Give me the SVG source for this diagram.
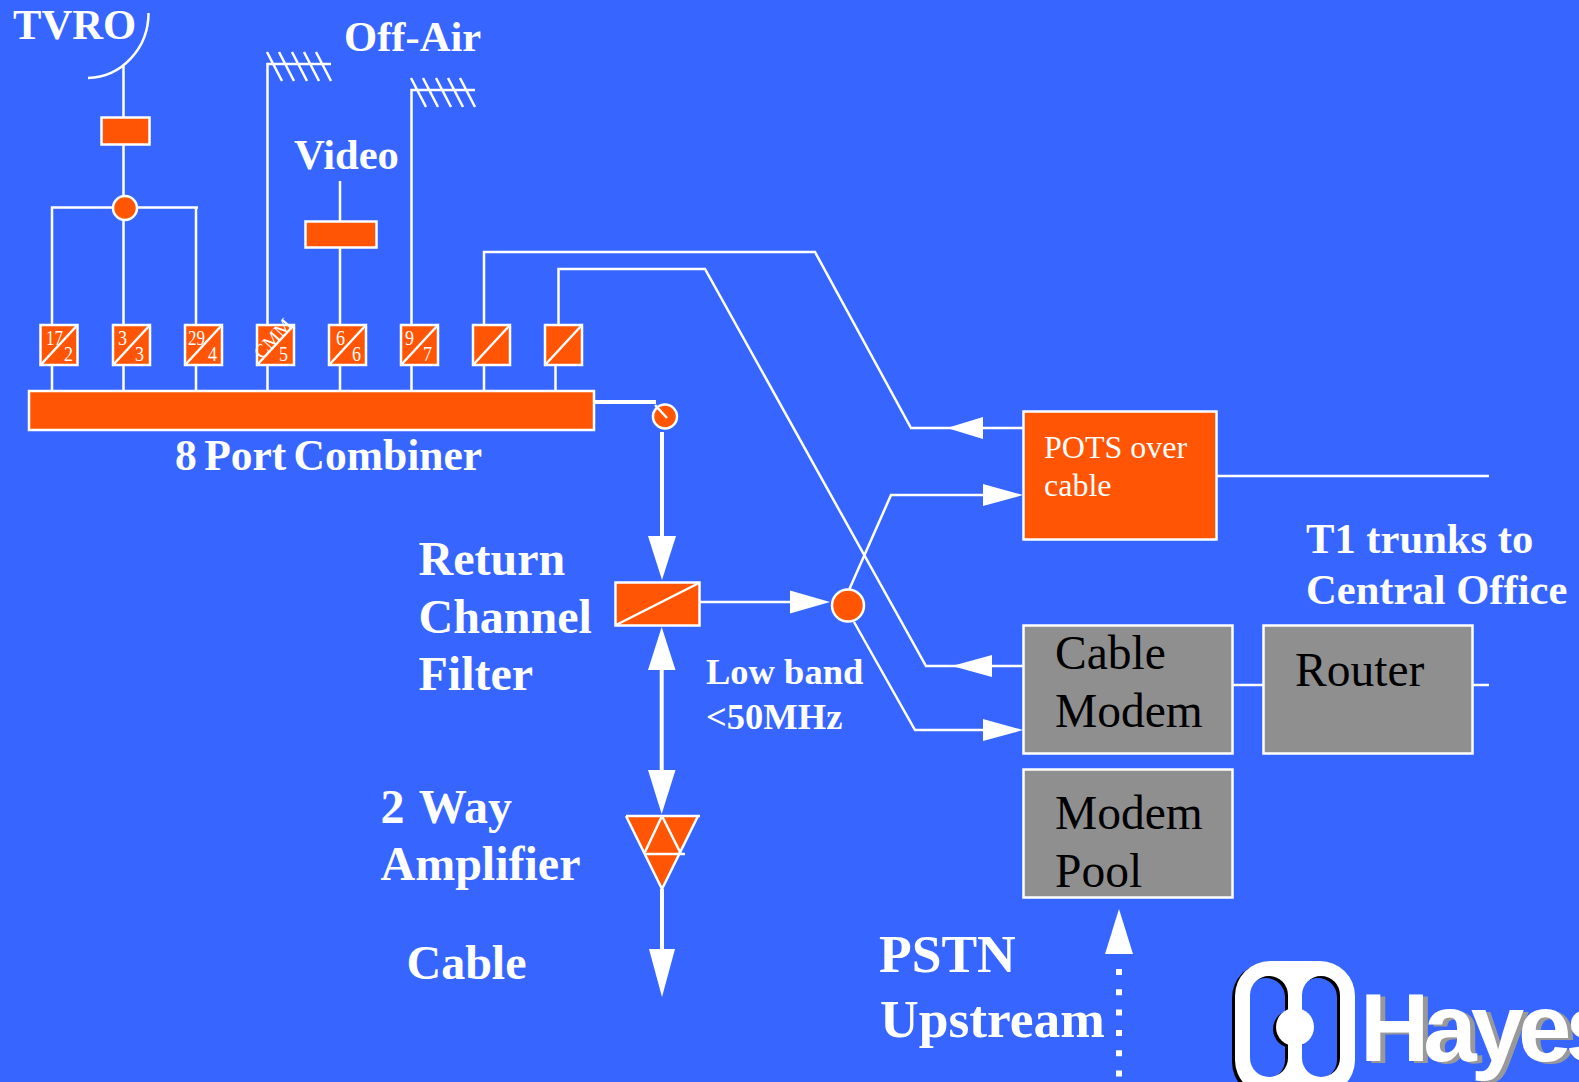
<svg xmlns="http://www.w3.org/2000/svg" xmlns:xlink="http://www.w3.org/1999/xlink" width="1579" height="1082" viewBox="0 0 1579 1082">
<style>
.ln{fill:none;stroke:#fff;stroke-width:2.5}
.th{fill:none;stroke:#fff;stroke-width:4}
.box{fill:#ff5505;stroke:#fff;stroke-width:2.5}
.gbox{fill:#8f8f8f;stroke:#fff;stroke-width:2.5}
.ah{fill:#fff;stroke:none}
text{font-family:"Liberation Serif","Times New Roman",serif}
.b42{font-size:42.600px;font-weight:bold;fill:#fff}
.b48{font-size:48px;font-weight:bold;fill:#fff}
.b53{font-size:53.500px;font-weight:bold;fill:#fff}
.b36{font-size:36.500px;font-weight:bold;fill:#fff}
.r32{font-size:32px;fill:#fff}
.k48{font-size:47.500px;fill:#000}
.n{font-size:21px;fill:#fff}
.hy{font-family:"Liberation Sans",Arial,sans-serif;font-size:96px;font-weight:bold;letter-spacing:-6px}
</style>
<defs>
<g id="logo"><path fill-rule="evenodd" d="M1270 961H1320A35 35 0 0 1 1355 996V1060A35 35 0 0 1 1320 1095H1270A35 35 0 0 1 1235 1060V996A35 35 0 0 1 1270 961ZM1269 976A19 19 0 0 0 1250 995V1058A19 19 0 0 0 1269 1077A19 19 0 0 0 1288 1058V995A19 19 0 0 0 1269 976ZM1321 976A19 19 0 0 0 1302 995V1058A19 19 0 0 0 1321 1077A19 19 0 0 0 1340 1058V995A19 19 0 0 0 1321 976Z"/><circle cx="1295" cy="1027" r="19"/></g>
<g id="sp"><rect class="box" x="0" y="0" width="37" height="40"/><path class="ln" d="M0 40L37 0"/></g>
</defs>
<rect width="1579" height="1082" fill="#3666ff"/>
<g id="connectors">
<path class="ln" d="M148.500 13A62 65 0 0 1 88 78"/>
<path class="ln" d="M123.500 65V325M52 325V207.500H198M196 207.500V325"/>
<path class="ln" d="M267.500 325V64H331M267 52L282 81M279 52L294 81M292 52L307 81M304 52L319 81M316 52L331 81"/>
<path class="ln" d="M411.500 325V90H475M411 78L426 107M423 78L438 107M436 78L451 107M448 78L463 107M460 78L475 107"/>
<path class="ln" d="M340 181V325"/>
<path class="ln" d="M52 365V391M123.500 365V391M196 365V391M267.500 365V391M340 365V391M411.500 365V391M484 365V391M555.500 365V391"/>
<path class="ln" d="M484 325V252H815L911 428H1023"/>
<path class="ln" d="M558.500 325V269H705L926 666H1023"/>
<path class="ln" d="M1216 476H1489M1232 685H1263M1472 685H1489"/>
<path class="th" d="M594 402H656M662 432V540M661.700 665V775M662 889V955"/>
<path class="ln" d="M700 602H800M849 590L891 495H985M854 622L915 730H985"/>
<path d="M1119 969V1082" fill="none" stroke="#fff" stroke-width="6" stroke-dasharray="6 14.300"/>
<path class="ah" d="M947 428L983 417V439Z"/>
<path class="ah" d="M952 666L992 655V677Z"/>
<path class="ah" d="M1023 495L983 484V506Z"/>
<path class="ah" d="M1023 730L983 719V741Z"/>
<path class="ah" d="M662 580L648 536H676Z"/>
<path class="ah" d="M830 602L790 590.500V613.500Z"/>
<path class="ah" d="M661.700 627L648 670H675.500Z"/>
<path class="ah" d="M661.700 814L648 770H675.500Z"/>
<path class="ah" d="M662 997L649 949H675Z"/>
<path class="ah" d="M1119 909L1105 954H1133Z"/>
</g>
<g id="dish-filter"><rect class="box" x="101.500" y="117.500" width="48" height="27"/></g>
<g id="splitter"><circle class="box" cx="125" cy="208" r="12"/></g>
<g id="video-mod"><rect class="box" x="305.500" y="221.500" width="71" height="26"/></g>
<g id="port1"><use xlink:href="#sp" href="#sp" x="40.500" y="325"/><text class="n" x="46" y="345" textLength="17" lengthAdjust="spacingAndGlyphs">17</text><text class="n" x="64" y="361" textLength="9" lengthAdjust="spacingAndGlyphs">2</text></g>
<g id="port2"><use xlink:href="#sp" href="#sp" x="113" y="325"/><text class="n" x="118" y="345" textLength="9" lengthAdjust="spacingAndGlyphs">3</text><text class="n" x="135" y="361" textLength="9" lengthAdjust="spacingAndGlyphs">3</text></g>
<g id="port3"><use xlink:href="#sp" href="#sp" x="185" y="325"/><text class="n" x="188" y="345" textLength="17" lengthAdjust="spacingAndGlyphs">29</text><text class="n" x="208" y="361" textLength="9" lengthAdjust="spacingAndGlyphs">4</text></g>
<g id="port4"><use xlink:href="#sp" href="#sp" x="257" y="325"/><text class="n" x="262" y="360" style="font-size:19px" transform="rotate(-48 262 360)">CMM</text><text class="n" x="279" y="361" textLength="9" lengthAdjust="spacingAndGlyphs">5</text></g>
<g id="port5"><use xlink:href="#sp" href="#sp" x="329" y="325"/><text class="n" x="336" y="345" textLength="9" lengthAdjust="spacingAndGlyphs">6</text><text class="n" x="352" y="361" textLength="9" lengthAdjust="spacingAndGlyphs">6</text></g>
<g id="port6"><use xlink:href="#sp" href="#sp" x="401" y="325"/><text class="n" x="405" y="345" textLength="9" lengthAdjust="spacingAndGlyphs">9</text><text class="n" x="423" y="361" textLength="9" lengthAdjust="spacingAndGlyphs">7</text></g>
<g id="port7"><use xlink:href="#sp" href="#sp" x="473" y="325"/></g>
<g id="port8"><use xlink:href="#sp" href="#sp" x="545" y="325"/></g>
<g id="combiner"><rect class="box" x="29" y="391" width="565" height="39"/><text x="175" y="470" font-size="43.500" font-weight="bold" fill="#fff" word-spacing="-3.500">8 Port Combiner</text></g>
<g id="tap"><circle class="box" cx="665" cy="416.500" r="12"/><path class="ln" d="M655 405L667 418"/></g>
<g id="filter"><rect class="box" x="615.500" y="582.500" width="84" height="43"/><path class="ln" d="M616 625L699 583"/></g>
<g id="low-node"><circle class="box" cx="848" cy="605.500" r="16"/></g>
<g id="amp"><path class="box" d="M626 816H700M698 816L662 889L626 816"/><path class="ln" d="M662 816L645 852M662 816L681 854M645 854H685"/></g>
<g id="pots"><rect class="box" x="1023.500" y="411.500" width="193" height="128"/><text class="r32" x="1044" y="458">POTS over</text><text class="r32" x="1044" y="496">cable</text></g>
<g id="cable-modem"><rect class="gbox" x="1023.500" y="625.500" width="209" height="128"/><text class="k48" x="1055" y="669">Cable</text><text class="k48" x="1055" y="727">Modem</text></g>
<g id="router"><rect class="gbox" x="1263.500" y="625.500" width="209" height="128"/><text class="k48" x="1295" y="686">Router</text></g>
<g id="modem-pool"><rect class="gbox" x="1023.500" y="769.500" width="209" height="128"/><text class="k48" x="1055" y="829">Modem</text><text class="k48" x="1055" y="887">Pool</text></g>
<g id="labels">
<text class="b42" x="13" y="39">TVRO</text>
<text class="b42" x="344" y="51">Off-Air</text>
<text class="b42" x="294" y="169">Video</text>
<text class="b48" x="418.500" y="575">Return</text>
<text class="b48" x="418.500" y="633">Channel</text>
<text class="b48" x="418.500" y="690">Filter</text>
<text class="b48" x="380.500" y="823" word-spacing="3">2 Way</text>
<text class="b48" x="380.500" y="880">Amplifier</text>
<text class="b48" x="406.500" y="979">Cable</text>
<text class="b36" x="706" y="684">Low band</text>
<text class="b36" x="706" y="729">&lt;50MHz</text>
<text class="b42" x="1306" y="553">T1 trunks to</text>
<text class="b42" x="1306" y="604">Central Office</text>
<text class="b53" x="879" y="972">PSTN</text>
<text class="b53" x="880" y="1037">Upstream</text>
</g>
<g id="hayes-logo">
<use xlink:href="#logo" href="#logo" x="-3" y="2" fill="#000"/>
<use xlink:href="#logo" href="#logo" fill="#fff"/>
<text class="hy" x="1365" y="1063" fill="#999">Hayes</text>
<text class="hy" x="1360" y="1061" fill="#fff">Hayes</text>
</g>
</svg>
